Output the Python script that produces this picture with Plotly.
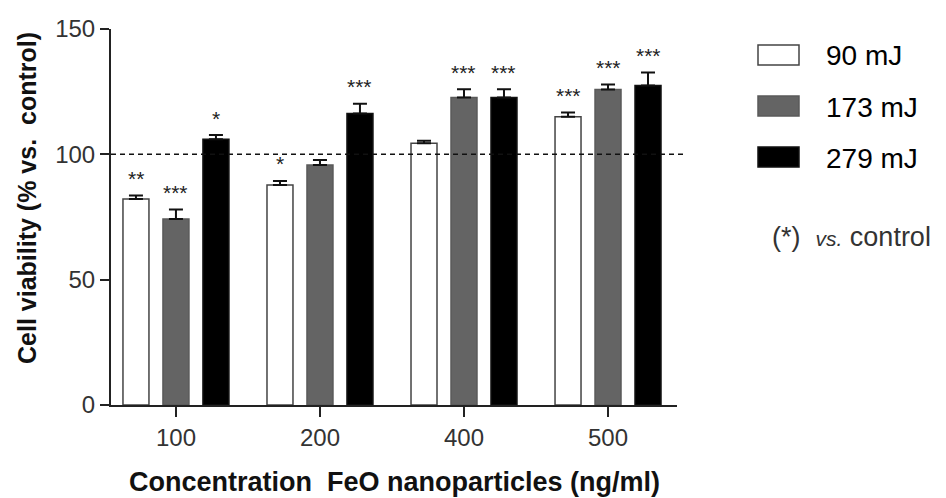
import plotly.graph_objects as go

# ---- data ----
concentrations = ["100", "200", "400", "500"]
series_names = ["90 mJ", "173 mJ", "279 mJ"]
v90 = [82.2, 87.8, 104.4, 115.0]
v173 = [74.2, 95.7, 122.7, 125.9]
v279 = [106.0, 116.3, 122.7, 127.5]
sd90 = [1.4, 1.6, 1.0, 1.7]
sd173 = [3.8, 2.0, 3.3, 2.0]
sd279 = [1.7, 3.9, 3.3, 5.1]
stars90 = ["**", "*", "", "***"]
stars173 = ["***", "", "***", "***"]
stars279 = ["*", "***", "***", "***"]
y_ticks = [0, 50, 100, 150]
control_level = 100

FONT = "Liberation Sans, Arial, sans-serif"
fills = ["#ffffff", "#646464", "#000000"]
edges = ["#444444", "#5a5a5a", "#111111"]

values = [v90, v173, v279]
sds = [sd90, sd173, sd279]
stars = [stars90, stars173, stars279]

fig = go.Figure()
for i in range(3):
    fig.add_trace(go.Bar(
        x=concentrations, y=values[i], name=series_names[i],
        marker=dict(color=fills[i], line=dict(color=edges[i], width=1.5)),
        error_y=dict(type="data", symmetric=False, array=sds[i],
                     arrayminus=[0] * len(sds[i]), width=7, thickness=2,
                     color="#111111"),
        showlegend=False,
    ))

# plot geometry (pixels)
L, R, T, B = 111, 269, 29, 93
W, H = 946, 498
pw, ph = W - L - R, H - T - B

def px_x(px):
    return (px - L) / pw

def px_y(py):
    return (H - B - py) / ph

bargap, groupgap = 0.167, 0.35
slot = (1 - bargap) / 3
annotations = []
for i in range(3):
    offset = (i - 1) * slot
    for j, c in enumerate(concentrations):
        if stars[i][j]:
            annotations.append(dict(
                x=j + offset, y=values[i][j] + sds[i][j], xref="x", yref="y",
                text=stars[i][j], showarrow=False, yanchor="middle",
                yshift=17, font=dict(family=FONT, size=21, color="#222")))

# axis titles
annotations.append(dict(
    x=px_x(27), y=px_y(198), xref="paper", yref="paper",
    text="<b>Cell viability (% vs.\u00a0 control)</b>", textangle=-90,
    showarrow=False, xanchor="center", yanchor="middle",
    font=dict(family=FONT, size=25, color="#111")))
annotations.append(dict(
    x=px_x(394), y=px_y(482), xref="paper", yref="paper",
    text="<b>Concentration\u00a0 FeO nanoparticles (ng/ml)</b>",
    showarrow=False, xanchor="center", yanchor="middle",
    font=dict(family=FONT, size=27, color="#111")))

# manual legend
shapes = []
row_y = [55, 106, 157]
for i in range(3):
    shapes.append(dict(type="rect", xref="paper", yref="paper",
                       x0=px_x(758), x1=px_x(799),
                       y0=px_y(row_y[i] + 10), y1=px_y(row_y[i] - 10),
                       fillcolor=fills[i],
                       line=dict(color=edges[i], width=1.5)))
    annotations.append(dict(x=px_x(824), y=px_y(row_y[i] + 1), xref="paper",
                            yref="paper", text=series_names[i],
                            showarrow=False, xanchor="left", yanchor="middle",
                            font=dict(family=FONT, size=28, color="#000")))
annotations.append(dict(
    x=px_x(770), y=px_y(237), xref="paper", yref="paper",
    text="(*)\u00a0 <i><span style='font-size:21px'>vs.</span></i> control",
    showarrow=False, xanchor="left", yanchor="middle",
    font=dict(family=FONT, size=27, color="#333")))

# control dashed line
shapes.append(dict(type="line", xref="paper", yref="y", x0=0, x1=px_x(685),
                   y0=control_level, y1=control_level,
                   line=dict(color="#111", width=1.5, dash="5px,4px")))

fig.update_layout(
    width=W, height=H,
    margin=dict(l=L, r=R, t=T, b=B),
    paper_bgcolor="white", plot_bgcolor="white",
    barmode="group", bargap=bargap, bargroupgap=groupgap,
    shapes=shapes, annotations=annotations,
    font=dict(family=FONT),
)
fig.update_xaxes(
    type="category", range=[-0.451, 3.479], showline=True,
    linecolor="#222", linewidth=2, ticks="outside", ticklen=10,
    tickwidth=2, tickcolor="#222", showgrid=False, zeroline=False,
    tickfont=dict(family=FONT, size=24, color="#333"),
)
fig.update_yaxes(
    range=[0, 150], tickvals=y_ticks, showline=True, linecolor="#222",
    linewidth=2, ticks="outside", ticklen=9, tickwidth=2, tickcolor="#222",
    showgrid=False, zeroline=False,
    tickfont=dict(family=FONT, size=24, color="#333"),
)

fig.write_html("out.html")
